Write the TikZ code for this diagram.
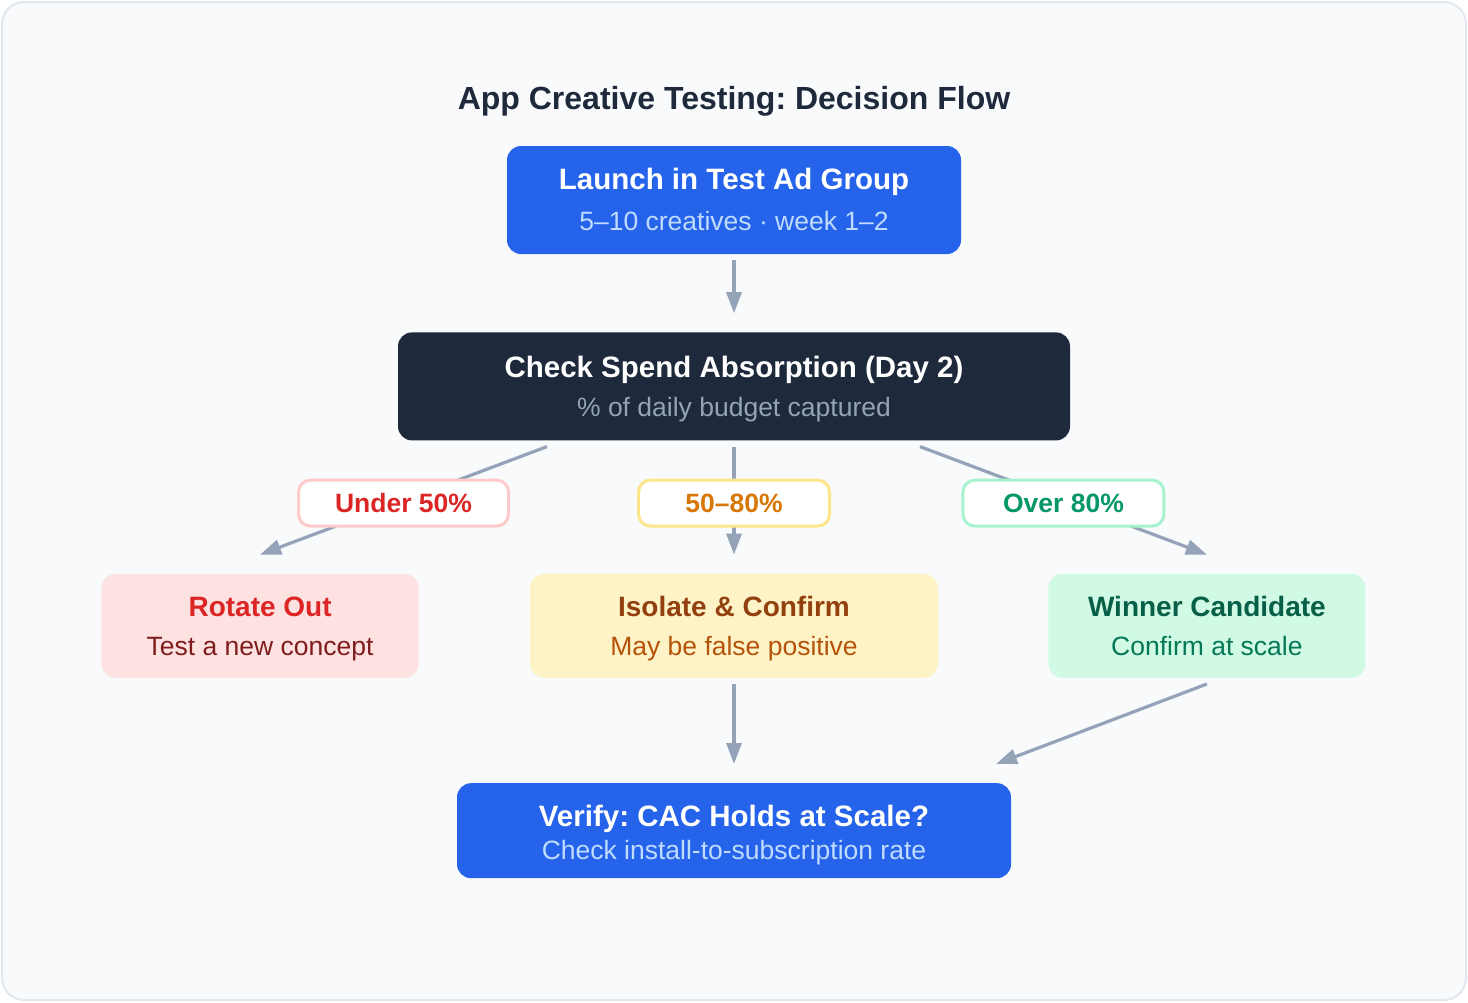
\documentclass[tikz,border=0pt]{standalone}
\usepackage{fontspec}
\setmainfont{Liberation Sans}
\usetikzlibrary{positioning,arrows.meta}
\frenchspacing

\definecolor{pagebg}{HTML}{F8FAFC}
\definecolor{pageline}{HTML}{E2E8F0}
\definecolor{ink}{HTML}{1E293B}
\definecolor{blue}{HTML}{2563EB}
\definecolor{bluesub}{HTML}{BFDBFE}
\definecolor{darksub}{HTML}{94A3B8}
\definecolor{arrowgray}{HTML}{94A3B8}
\definecolor{redline}{HTML}{FECACA}
\definecolor{redtext}{HTML}{DC2626}
\definecolor{redfill}{HTML}{FEE2E2}
\definecolor{redsub}{HTML}{7F1D1D}
\definecolor{amberline}{HTML}{FDE68A}
\definecolor{ambertext}{HTML}{D97706}
\definecolor{amberfill}{HTML}{FEF3C7}
\definecolor{amberhead}{HTML}{92400E}
\definecolor{ambersub}{HTML}{B45309}
\definecolor{greenline}{HTML}{A7F3D0}
\definecolor{greentext}{HTML}{059669}
\definecolor{greenfill}{HTML}{D1FAE5}
\definecolor{greenhead}{HTML}{065F46}
\definecolor{greensub}{HTML}{047857}

\newcommand{\subsize}{\fontsize{26.5}{30}\selectfont}

\begin{document}
\begin{tikzpicture}[
    x=1pt, y=-1pt,
    box/.style={rectangle, rounded corners=14pt, align=center, inner sep=0pt,
      minimum height=108pt, font=\fontsize{29.5}{39}\selectfont},
    lines/.style 2 args={execute at begin node={\rule{0pt}{#1}\ignorespaces},
      execute at end node={\unskip\rule[-#2]{0pt}{#2}}},
    rowbox/.style={box, minimum height=104pt, minimum width=317pt,
      font=\fontsize{28}{39}\selectfont, lines={69pt}{9pt}},
    tag/.style={rectangle, draw, line width=3pt, rounded corners=12pt, fill=white,
      minimum height=46pt, inner sep=0pt, text height=19pt, text depth=0pt,
      yshift=-2.5pt, font=\fontsize{26.5}{30}\selectfont\bfseries},
    flow/.style={-{Triangle[length=21pt,width=15pt]}, draw=arrowgray, line width=3.2pt}
  ]

    % Page
    \useasboundingbox (0,0) rectangle (1468,1002);
    \draw[fill=pagebg, draw=pageline, line width=2pt, rounded corners=22pt] (2,2) rectangle (1466,1000);

    \node[anchor=base, text=ink, font=\fontsize{32}{36}\selectfont\bfseries] (title) at (734,109)
      {App Creative Testing: Decision Flow};

    % Top: launch and check
    \node[box, fill=blue, text=white, minimum width=454pt,
      font=\fontsize{29.5}{41}\selectfont, lines={71pt}{11pt}] (launch) at (734,200) {
      \textbf{Launch in Test Ad Group}\\
      {\subsize\color{bluesub}5–10 creatives · week 1–2}
    };

    \node[box, fill=ink, text=white, minimum width=672pt, lines={69pt}{9.6pt},
      below=78pt of launch] (check) {
      \textbf{Check Spend Absorption (Day 2)}\\
      {\subsize\color{darksub}\% of daily budget captured}
    };

    % Row of outcomes
    \node[rowbox, fill=amberfill, minimum width=408pt, below=133pt of check] (isolate) {
      \textcolor{amberhead}{\textbf{Isolate \& Confirm}}\\
      {\subsize\color{ambersub}May be false positive}
    };

    \node[rowbox, fill=redfill, left=111pt of isolate] (rotate) {
      \textcolor{redtext}{\textbf{Rotate Out}}\\
      {\subsize\color{redsub}Test a new concept}
    };

    \node[rowbox, fill=greenfill, right=110pt of isolate] (winner) {
      \textcolor{greenhead}{\textbf{Winner Candidate}}\\
      {\subsize\color{greensub}Confirm at scale}
    };

    % Bottom: verify
    \node[box, fill=blue, text=white, minimum width=554pt, minimum height=95pt,
      font=\fontsize{29.5}{33.3}\selectfont, lines={65.3pt}{7.7pt},
      below=105pt of isolate] (verify) {
      \textbf{Verify: CAC Holds at Scale?}\\
      {\subsize\color{bluesub}Check install-to-subscription rate}
    };

    % Relations
    \draw[flow] ([yshift=-6pt]launch.south) -- ([yshift=19pt]check.north);

    \draw[flow] ([xshift=-187pt,yshift=-6pt]check.south) --
      node[tag, draw=redline, text=redtext, minimum width=210pt] (underTag) {Under 50\%}
      ([yshift=19pt]rotate.north);
    \draw[flow] ([yshift=-6pt]check.south) --
      node[tag, draw=amberline, text=ambertext, minimum width=191pt] (midTag) {50–80\%}
      ([yshift=19pt]isolate.north);
    \draw[flow] ([xshift=186pt,yshift=-6pt]check.south) --
      node[tag, draw=greenline, text=greentext, minimum width=201pt] (overTag) {Over 80\%}
      ([yshift=19pt]winner.north);

    \draw[flow] ([yshift=-6pt]isolate.south) -- ([yshift=19pt]verify.north);
    % Diagonal from winner down to verify's top right
    \draw[flow] ([yshift=-6pt]winner.south) -- ([xshift=262pt,yshift=19pt]verify.north);
  \end{tikzpicture}
\end{document}
